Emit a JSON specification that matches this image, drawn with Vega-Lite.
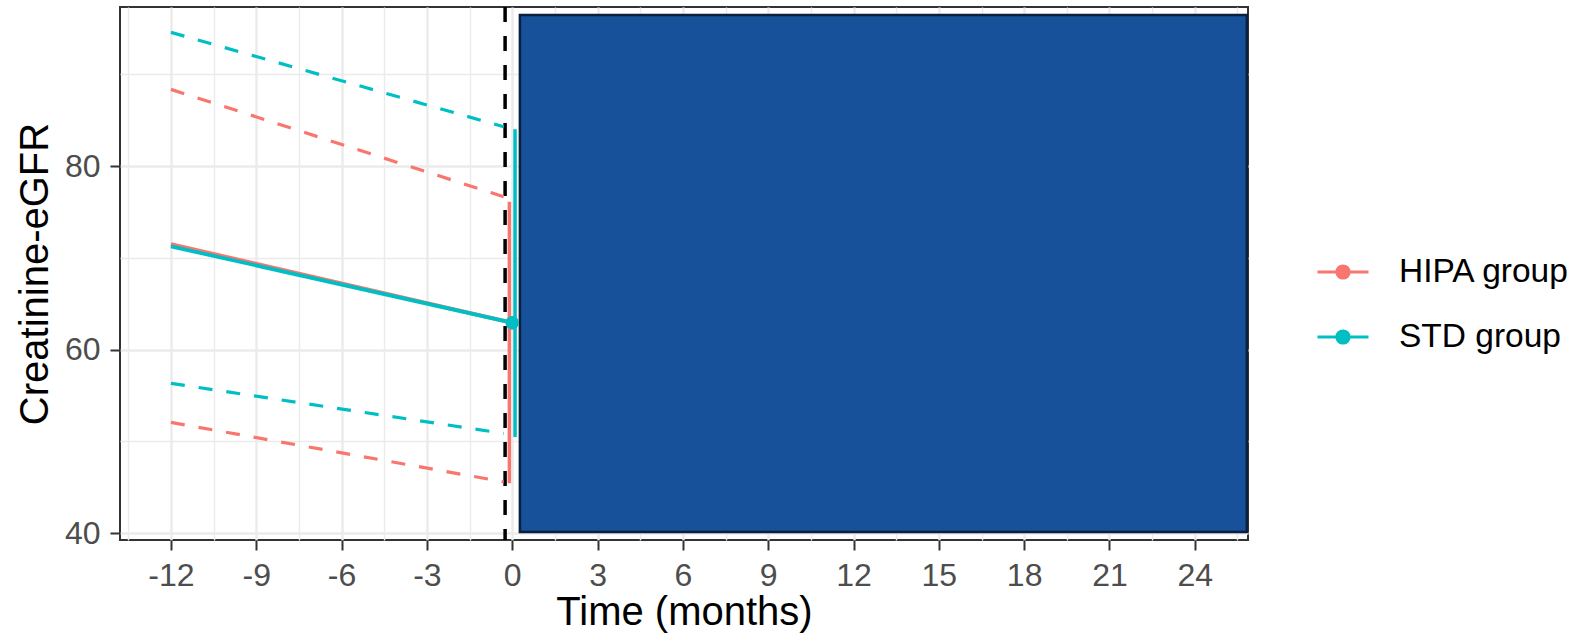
{
  "$schema": "https://vega.github.io/schema/vega-lite/v6.json",
  "width": 1128,
  "height": 533,
  "autosize": {"type": "none"},
  "padding": {"left": 120, "top": 7, "right": 326, "bottom": 102},
  "background": "white",
  "config": {
    "view": {"stroke": "#333333", "strokeWidth": 2},
    "font": "Liberation Sans",
    "axis": {
      "domain": false,
      "grid": true,
      "gridColor": "#EBEBEB",
      "labelFont": "Liberation Sans",
      "labelFontSize": 32,
      "labelColor": "#4D4D4D",
      "labelPadding": 10,
      "labelOverlap": false,
      "labelFlush": false,
      "tickColor": "#333333",
      "tickWidth": 2,
      "tickSize": 10,
      "titleFont": "Liberation Sans",
      "titleFontSize": 40,
      "titleFontWeight": "normal",
      "titleColor": "black"
    }
  },
  "datasets": {
    "box": [{"x1": 0.27, "x2": 25.83, "y1": 40.14, "y2": 96.45}],
    "vline": [{"time": -0.25}],
    "ci": [
      {"group": "HIPA group", "band": "HIPA upper", "time": -12, "value": 88.35},
      {"group": "HIPA group", "band": "HIPA upper", "time": -0.3, "value": 76.66},
      {"group": "HIPA group", "band": "HIPA lower", "time": -12, "value": 52.08},
      {"group": "HIPA group", "band": "HIPA lower", "time": -0.3, "value": 45.61},
      {"group": "STD group", "band": "STD upper", "time": -12, "value": 94.56},
      {"group": "STD group", "band": "STD upper", "time": -0.3, "value": 84.28},
      {"group": "STD group", "band": "STD lower", "time": -12, "value": 56.33},
      {"group": "STD group", "band": "STD lower", "time": -0.3, "value": 50.88}
    ],
    "mean": [
      {"group": "HIPA group", "time": -12, "value": 71.5},
      {"group": "HIPA group", "time": 0, "value": 62.93},
      {"group": "STD group", "time": -12, "value": 71.25},
      {"group": "STD group", "time": 0, "value": 62.93}
    ],
    "err": [
      {"group": "HIPA group", "time": -0.1, "lo": 45.44, "hi": 76.1},
      {"group": "STD group", "time": 0.1, "lo": 50.5, "hi": 84.0}
    ]
  },
  "layer": [
    {
      "data": {"name": "box"},
      "mark": {"type": "rect", "fill": "#16519A", "stroke": "#0B1F3F", "strokeWidth": 2.5},
      "encoding": {
        "x": {
          "field": "x1", "type": "quantitative",
          "scale": {"domain": [-13.79, 25.87], "nice": false, "zero": false},
          "axis": {
            "title": "Time (months)",
            "titlePadding": 1,
            "values": [-13.5, -12, -10.5, -9, -7.5, -6, -4.5, -3, -1.5, 0, 1.5, 3, 4.5, 6, 7.5, 9, 10.5, 12, 13.5, 15, 16.5, 18, 19.5, 21, 22.5, 24, 25.5],
            "labelExpr": "datum.value % 3 === 0 ? '' + datum.value : ''",
            "tickOpacity": {"condition": {"test": "datum.value % 3 === 0", "value": 1}, "value": 0},
            "gridWidth": {"condition": {"test": "datum.value % 3 === 0", "value": 2.4}, "value": 1.4}
          }
        },
        "x2": {"field": "x2"},
        "y": {
          "field": "y1", "type": "quantitative",
          "scale": {"domain": [39.27, 97.32], "nice": false, "zero": false},
          "axis": {
            "title": "Creatinine-eGFR",
            "titlePadding": 9,
            "values": [40, 50, 60, 70, 80, 90],
            "labelExpr": "datum.value % 20 === 0 ? '' + datum.value : ''",
            "tickOpacity": {"condition": {"test": "datum.value % 20 === 0", "value": 1}, "value": 0},
            "gridWidth": {"condition": {"test": "datum.value % 20 === 0", "value": 2.4}, "value": 1.4}
          }
        },
        "y2": {"field": "y2"}
      }
    },
    {
      "data": {"name": "vline"},
      "mark": {"type": "rule", "strokeDash": [15, 14], "strokeWidth": 3.5, "color": "black"},
      "encoding": {
        "x": {"field": "time", "type": "quantitative"}
      }
    },
    {
      "data": {"name": "ci"},
      "mark": {"type": "line", "strokeDash": [14, 14], "strokeWidth": 3.2},
      "encoding": {
        "x": {"field": "time", "type": "quantitative"},
        "y": {"field": "value", "type": "quantitative"},
        "detail": {"field": "band"},
        "color": {"field": "group", "type": "nominal", "scale": {"domain": ["HIPA group", "STD group"], "range": ["#F8766D", "#00BFC4"]}}
      }
    },
    {
      "data": {"name": "mean"},
      "mark": {"type": "line", "strokeWidth": 3.8},
      "encoding": {
        "x": {"field": "time", "type": "quantitative"},
        "y": {"field": "value", "type": "quantitative"},
        "color": {"field": "group", "type": "nominal"}
      }
    },
    {
      "data": {"name": "err"},
      "mark": {"type": "rule", "strokeWidth": 3.5},
      "encoding": {
        "x": {"field": "time", "type": "quantitative"},
        "y": {"field": "lo", "type": "quantitative"},
        "y2": {"field": "hi"},
        "color": {"field": "group", "type": "nominal"}
      }
    },
    {
      "data": {"name": "mean"},
      "transform": [{"filter": "datum.time === 0"}],
      "mark": {"type": "point", "filled": true, "size": 180, "opacity": 1},
      "encoding": {
        "x": {"field": "time", "type": "quantitative"},
        "y": {"field": "value", "type": "quantitative"},
        "color": {
          "field": "group", "type": "nominal",
          "legend": {
            "orient": "none",
            "legendX": 1196,
            "legendY": 238,
            "title": null,
            "padding": 0,
            "symbolType": "M-1,0L1,0M-0.24,0A0.24,0.24,0,1,1,0.24,0A0.24,0.24,0,1,1,-0.24,0Z",
            "symbolSize": 2601,
            "symbolStrokeWidth": 3,
            "symbolOpacity": 1,
            "labelFont": "Liberation Sans",
            "labelFontSize": 33.5,
            "labelLimit": 400,
            "labelColor": "black",
            "labelOffset": 29,
            "rowPadding": 21,
            "encode": {
              "symbols": {
                "update": {
                  "fill": {"scale": "color", "field": "value"},
                  "stroke": {"scale": "color", "field": "value"}
                }
              }
            }
          }
        }
      }
    }
  ]
}
